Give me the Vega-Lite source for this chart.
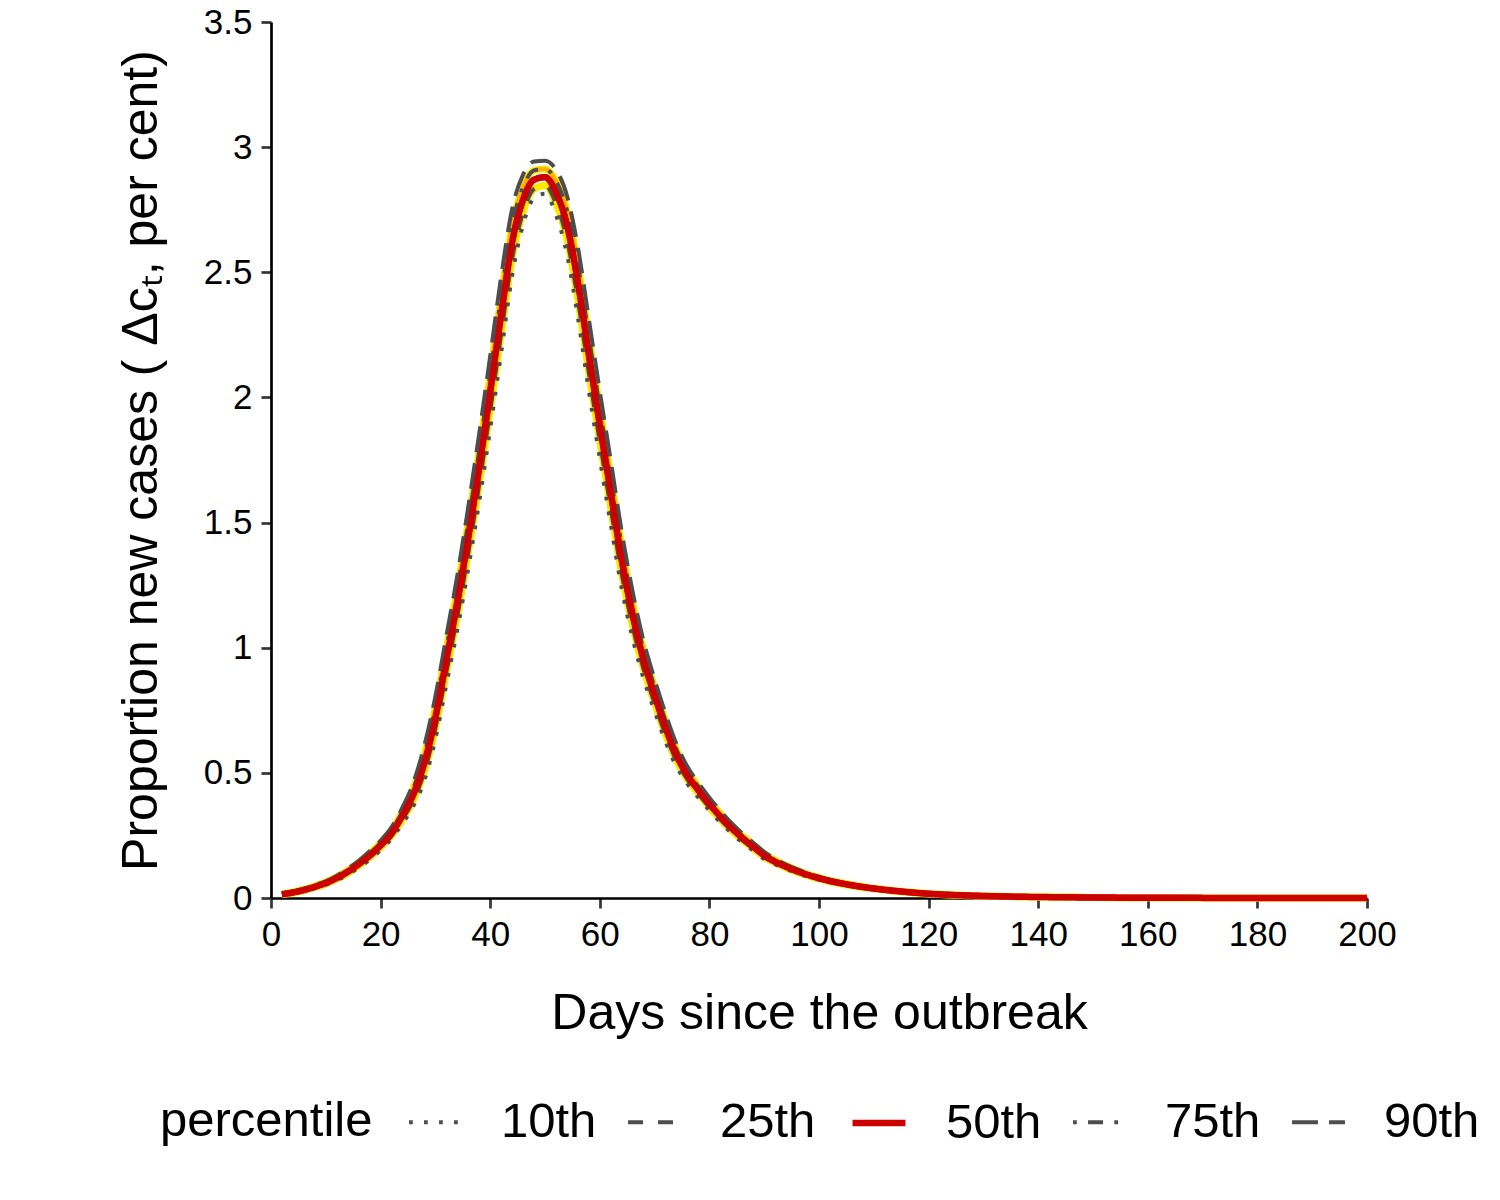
{
  "$schema": "https://vega.github.io/schema/vega-lite/v6.json",
  "width": 1096,
  "height": 876,
  "autosize": {"type": "none"},
  "padding": {"left": 271, "top": 22, "right": 133, "bottom": 302},
  "background": "white",
  "data": {
    "values": [
      {"day": 2, "10th": 0.012, "25th": 0.014, "50th": 0.015, "75th": 0.016, "90th": 0.018},
      {"day": 4, "10th": 0.019, "25th": 0.02, "50th": 0.022, "75th": 0.024, "90th": 0.026},
      {"day": 6, "10th": 0.027, "25th": 0.03, "50th": 0.032, "75th": 0.034, "90th": 0.037},
      {"day": 8, "10th": 0.039, "25th": 0.042, "50th": 0.045, "75th": 0.048, "90th": 0.051},
      {"day": 10, "10th": 0.053, "25th": 0.056, "50th": 0.06, "75th": 0.064, "90th": 0.067},
      {"day": 12, "10th": 0.071, "25th": 0.075, "50th": 0.08, "75th": 0.085, "90th": 0.089},
      {"day": 14, "10th": 0.093, "25th": 0.099, "50th": 0.105, "75th": 0.111, "90th": 0.117},
      {"day": 16, "10th": 0.121, "25th": 0.128, "50th": 0.135, "75th": 0.142, "90th": 0.149},
      {"day": 18, "10th": 0.153, "25th": 0.162, "50th": 0.17, "75th": 0.178, "90th": 0.187},
      {"day": 20, "10th": 0.191, "25th": 0.201, "50th": 0.21, "75th": 0.22, "90th": 0.229},
      {"day": 22, "10th": 0.237, "25th": 0.248, "50th": 0.26, "75th": 0.272, "90th": 0.283},
      {"day": 24, "10th": 0.298, "25th": 0.314, "50th": 0.33, "75th": 0.346, "90th": 0.362},
      {"day": 26, "10th": 0.368, "25th": 0.391, "50th": 0.415, "75th": 0.439, "90th": 0.462},
      {"day": 28, "10th": 0.47, "25th": 0.505, "50th": 0.54, "75th": 0.575, "90th": 0.61},
      {"day": 30, "10th": 0.635, "25th": 0.678, "50th": 0.72, "75th": 0.762, "90th": 0.805},
      {"day": 32, "10th": 0.854, "25th": 0.902, "50th": 0.95, "75th": 0.998, "90th": 1.046},
      {"day": 34, "10th": 1.072, "25th": 1.126, "50th": 1.18, "75th": 1.234, "90th": 1.288},
      {"day": 36, "10th": 1.317, "25th": 1.378, "50th": 1.44, "75th": 1.502, "90th": 1.563},
      {"day": 38, "10th": 1.584, "25th": 1.652, "50th": 1.72, "75th": 1.788, "90th": 1.856},
      {"day": 40, "10th": 1.875, "25th": 1.947, "50th": 2.02, "75th": 2.093, "90th": 2.165},
      {"day": 42, "10th": 2.178, "25th": 2.254, "50th": 2.33, "75th": 2.406, "90th": 2.482},
      {"day": 44, "10th": 2.487, "25th": 2.554, "50th": 2.62, "75th": 2.687, "90th": 2.753},
      {"day": 46, "10th": 2.69, "25th": 2.74, "50th": 2.79, "75th": 2.84, "90th": 2.89},
      {"day": 48, "10th": 2.797, "25th": 2.833, "50th": 2.87, "75th": 2.907, "90th": 2.943},
      {"day": 50, "10th": 2.814, "25th": 2.847, "50th": 2.88, "75th": 2.913, "90th": 2.946},
      {"day": 52, "10th": 2.73, "25th": 2.775, "50th": 2.82, "75th": 2.865, "90th": 2.91},
      {"day": 54, "10th": 2.573, "25th": 2.632, "50th": 2.69, "75th": 2.748, "90th": 2.807},
      {"day": 56, "10th": 2.32, "25th": 2.39, "50th": 2.46, "75th": 2.53, "90th": 2.6},
      {"day": 58, "10th": 2.027, "25th": 2.098, "50th": 2.17, "75th": 2.242, "90th": 2.313},
      {"day": 60, "10th": 1.756, "25th": 1.823, "50th": 1.89, "75th": 1.957, "90th": 2.024},
      {"day": 62, "10th": 1.493, "25th": 1.557, "50th": 1.62, "75th": 1.684, "90th": 1.747},
      {"day": 64, "10th": 1.237, "25th": 1.294, "50th": 1.35, "75th": 1.406, "90th": 1.463},
      {"day": 66, "10th": 1.037, "25th": 1.084, "50th": 1.13, "75th": 1.176, "90th": 1.223},
      {"day": 68, "10th": 0.875, "25th": 0.913, "50th": 0.95, "75th": 0.988, "90th": 1.025},
      {"day": 70, "10th": 0.747, "25th": 0.778, "50th": 0.81, "75th": 0.842, "90th": 0.874},
      {"day": 72, "10th": 0.624, "25th": 0.652, "50th": 0.68, "75th": 0.708, "90th": 0.736},
      {"day": 74, "10th": 0.525, "25th": 0.548, "50th": 0.57, "75th": 0.592, "90th": 0.615},
      {"day": 76, "10th": 0.456, "25th": 0.473, "50th": 0.49, "75th": 0.507, "90th": 0.524},
      {"day": 78, "10th": 0.401, "25th": 0.416, "50th": 0.43, "75th": 0.445, "90th": 0.459},
      {"day": 80, "10th": 0.349, "25th": 0.362, "50th": 0.375, "75th": 0.388, "90th": 0.401},
      {"day": 82, "10th": 0.302, "25th": 0.313, "50th": 0.325, "75th": 0.337, "90th": 0.348},
      {"day": 84, "10th": 0.26, "25th": 0.27, "50th": 0.28, "75th": 0.29, "90th": 0.3},
      {"day": 86, "10th": 0.222, "25th": 0.231, "50th": 0.24, "75th": 0.249, "90th": 0.258},
      {"day": 88, "10th": 0.189, "25th": 0.197, "50th": 0.205, "75th": 0.213, "90th": 0.221},
      {"day": 90, "10th": 0.156, "25th": 0.163, "50th": 0.17, "75th": 0.177, "90th": 0.184},
      {"day": 92, "10th": 0.134, "25th": 0.14, "50th": 0.145, "75th": 0.15, "90th": 0.156},
      {"day": 94, "10th": 0.116, "25th": 0.12, "50th": 0.125, "75th": 0.13, "90th": 0.134},
      {"day": 96, "10th": 0.099, "25th": 0.103, "50th": 0.107, "75th": 0.111, "90th": 0.115},
      {"day": 98, "10th": 0.085, "25th": 0.089, "50th": 0.092, "75th": 0.095, "90th": 0.099},
      {"day": 100, "10th": 0.073, "25th": 0.076, "50th": 0.079, "75th": 0.082, "90th": 0.085},
      {"day": 102, "10th": 0.063, "25th": 0.066, "50th": 0.068, "75th": 0.07, "90th": 0.073},
      {"day": 104, "10th": 0.055, "25th": 0.057, "50th": 0.059, "75th": 0.061, "90th": 0.063},
      {"day": 106, "10th": 0.047, "25th": 0.049, "50th": 0.051, "75th": 0.053, "90th": 0.055},
      {"day": 108, "10th": 0.041, "25th": 0.042, "50th": 0.044, "75th": 0.046, "90th": 0.047},
      {"day": 110, "10th": 0.035, "25th": 0.037, "50th": 0.038, "75th": 0.039, "90th": 0.041},
      {"day": 115, "10th": 0.024, "25th": 0.025, "50th": 0.026, "75th": 0.027, "90th": 0.028},
      {"day": 120, "10th": 0.015, "25th": 0.016, "50th": 0.017, "75th": 0.018, "90th": 0.019},
      {"day": 130, "10th": 0.007, "25th": 0.0075, "50th": 0.008, "75th": 0.0085, "90th": 0.009},
      {"day": 140, "10th": 0.0035, "25th": 0.0038, "50th": 0.004, "75th": 0.0042, "90th": 0.0045},
      {"day": 150, "10th": 0.002, "25th": 0.002, "50th": 0.002, "75th": 0.002, "90th": 0.002},
      {"day": 160, "10th": 0.001, "25th": 0.001, "50th": 0.001, "75th": 0.001, "90th": 0.001},
      {"day": 170, "10th": 0.0005, "25th": 0.0005, "50th": 0.0005, "75th": 0.0005, "90th": 0.0005},
      {"day": 180, "10th": 0.0003, "25th": 0.0003, "50th": 0.0003, "75th": 0.0003, "90th": 0.0003},
      {"day": 190, "10th": 0.0002, "25th": 0.0002, "50th": 0.0002, "75th": 0.0002, "90th": 0.0002},
      {"day": 200, "10th": 0.0001, "25th": 0.0001, "50th": 0.0001, "75th": 0.0001, "90th": 0.0001}
    ]
  },
  "encoding": {
    "x": {
      "field": "day",
      "type": "quantitative",
      "title": "Days since the outbreak",
      "scale": {"domain": [0, 200], "nice": false, "zero": false},
      "axis": {
        "values": [0, 20, 40, 60, 80, 100, 120, 140, 160, 180, 200],
        "labelFlush": false,
        "titleY": 130,
        "titleBaseline": "alphabetic"
      }
    }
  },
  "layer": [
    {
      "mark": {"type": "line", "color": "#FFE800", "strokeWidth": 7, "interpolate": "monotone"},
      "encoding": {
        "y": {
          "field": "25th",
          "type": "quantitative",
          "title": "Proportion new cases ( Δcₜ, per cent)",
          "scale": {"domain": [0, 3.5], "nice": false},
          "axis": {
            "values": [0, 0.5, 1, 1.5, 2, 2.5, 3, 3.5],
            "format": "~g",
            "titleX": -115,
            "titleBaseline": "alphabetic"
          }
        }
      }
    },
    {
      "mark": {"type": "line", "color": "#FFE800", "strokeWidth": 7, "interpolate": "monotone"},
      "encoding": {"y": {"field": "75th", "type": "quantitative"}}
    },
    {
      "mark": {"type": "line", "color": "#FFB000", "strokeWidth": 4, "interpolate": "monotone"},
      "encoding": {"y": {"field": "75th", "type": "quantitative"}}
    },
    {
      "transform": [
        {"fold": ["10th", "25th", "50th", "75th", "90th"], "as": ["percentile", "value"]}
      ],
      "mark": {"type": "line", "interpolate": "monotone"},
      "encoding": {
        "y": {"field": "value", "type": "quantitative"},
        "color": {
          "field": "percentile",
          "type": "nominal",
          "title": "percentile",
          "scale": {
            "domain": ["10th", "25th", "50th", "75th", "90th"],
            "range": ["#4D4D4D", "#4D4D4D", "#CC0000", "#4D4D4D", "#4D4D4D"]
          }
        },
        "strokeDash": {
          "field": "percentile",
          "type": "nominal",
          "title": "percentile",
          "scale": {
            "domain": ["10th", "25th", "50th", "75th", "90th"],
            "range": [[3.75, 11.25], [15, 15], [1, 0], [3.75, 11.25, 15, 11.25], [26, 11]]
          }
        },
        "strokeWidth": {
          "field": "percentile",
          "type": "nominal",
          "title": "percentile",
          "scale": {
            "type": "ordinal",
            "domain": ["10th", "25th", "50th", "75th", "90th"],
            "range": [4, 4, 6.5, 4, 4]
          }
        }
      }
    },
    {
      "mark": {"type": "line", "color": "#CC0000", "strokeWidth": 6, "interpolate": "monotone"},
      "encoding": {"y": {"field": "50th", "type": "quantitative"}}
    }
  ],
  "config": {
    "view": {"stroke": null},
    "font": "Liberation Sans",
    "axis": {
      "grid": false,
      "domainColor": "#000000",
      "domainWidth": 2.7,
      "tickColor": "#333333",
      "tickWidth": 2.7,
      "tickSize": 10,
      "labelFont": "Liberation Sans",
      "labelFontSize": 35,
      "labelColor": "#000000",
      "labelPadding": 9,
      "titleFont": "Liberation Sans",
      "titleFontSize": 50,
      "titleFontWeight": "normal",
      "titleColor": "#000000"
    },
    "legend": {
      "orient": "none",
      "direction": "horizontal",
      "legendX": -111,
      "legendY": 1071,
      "titleOrient": "left",
      "titleFont": "Liberation Sans",
      "titleFontSize": 49,
      "titleFontWeight": "normal",
      "titleColor": "#000000",
      "titleLimit": 500,
      "titlePadding": 34,
      "labelFont": "Liberation Sans",
      "labelFontSize": 49,
      "labelColor": "#000000",
      "labelOffset": 37,
      "symbolType": "stroke",
      "symbolSize": 2800,
      "columnPadding": 23
    }
  }
}
